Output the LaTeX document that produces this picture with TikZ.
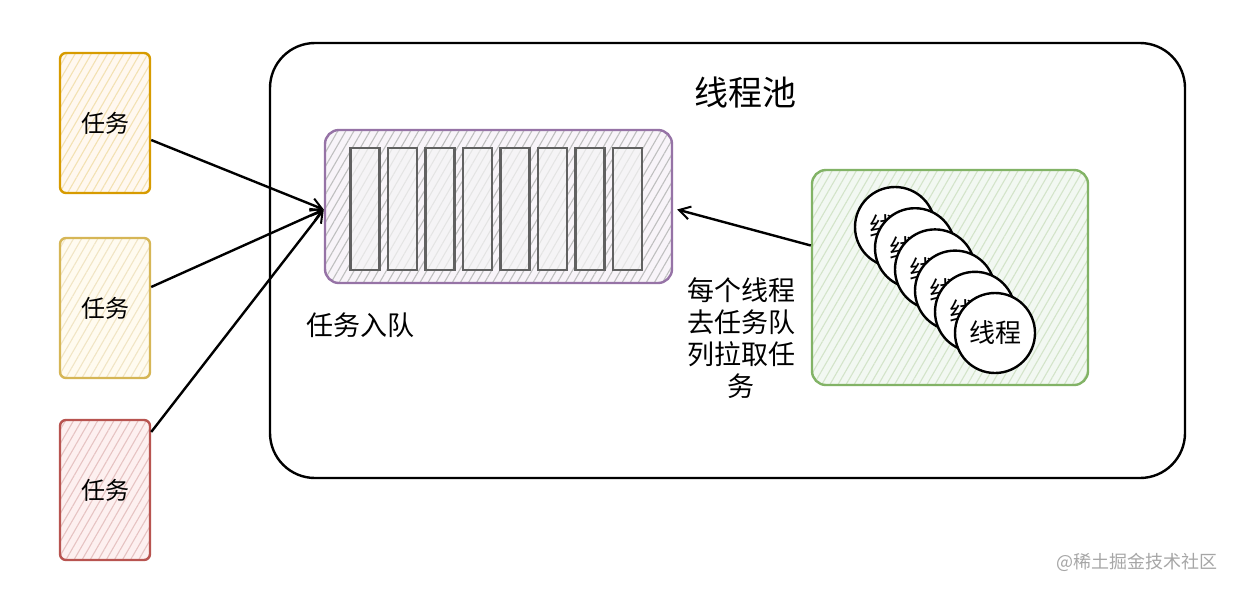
\documentclass[tikz,border=0pt]{standalone}
\usepackage{fontspec}
\setmainfont{Noto Sans CJK SC}
\usetikzlibrary{arrows.meta,patterns.meta}

\definecolor{orangeline}{HTML}{D79B00}
\definecolor{orangefill}{HTML}{FFE6CC}
\definecolor{yellowline}{HTML}{D6B656}
\definecolor{yellowfill}{HTML}{FFF2CC}
\definecolor{redline}{HTML}{B85450}
\definecolor{redfill}{HTML}{F8CECC}
\definecolor{purpleline}{HTML}{9673A6}
\definecolor{purplefill}{HTML}{E1D5E7}
\definecolor{greenline}{HTML}{82B366}
\definecolor{greenfill}{HTML}{D5E8D4}

\tikzset{
	hatchfill/.style 2 args = {preaction = {fill = #1}, preaction = {pattern = {Lines[angle = 60, distance = 7pt, line width = 1.1pt]}, pattern color = #2}},
	taskbox/.style = {rectangle, rounded corners = 6pt, line width = 2.4pt, minimum width = 90pt, minimum height = 140pt, font = \fontsize{24}{28}\selectfont},
	slotbox/.style = {rectangle, draw = black!62, line width = 2.4pt, minimum width = 29pt, minimum height = 122pt, inner sep = 0pt},
	threadnode/.style = {circle, draw = black, line width = 2.4pt, fill = white, minimum size = 80pt, inner sep = 0pt, font = \fontsize{26}{30}\selectfont},
	pushline/.style = {line width = 2.4pt, -{Straight Barb[length = 11pt, width = 13pt, line width = 2pt]}}
}

\begin{document}
\begin{tikzpicture}[x = 1pt, y = -1pt]
	
		\useasboundingbox (0, 0) rectangle (1236, 590);
		
		\node[rectangle, draw, line width = 2.4pt, rounded corners = 45pt, minimum width = 915pt, minimum height = 435pt] (pool) at (727.5, 260.5) {};
		\node[font = \fontsize{34}{38}\selectfont] (pooltitle) at (745, 93) {线程池};
		
		\node[taskbox, draw = orangeline, hatchfill = {orangefill!30}{orangeline!30}] (task1) at (105, 123) {任务};
		\node[taskbox, draw = yellowline, hatchfill = {yellowfill!30}{yellowline!35}] (task2) at (105, 308) {任务};
		\node[taskbox, draw = redline, hatchfill = {redfill!30}{redline!35}] (task3) at (105, 490) {任务};
		
		\node[rectangle, draw = purpleline, line width = 2.4pt, rounded corners = 14pt, minimum width = 347pt, minimum height = 153pt, hatchfill = {purplefill!25}{black!25}] (queue) at (498.5, 206.5) {};
		\foreach \i in {1, ..., 8}
			\node[slotbox, fill = black!4, fill opacity = 0.7] (slot\i) at ({365 + 37.5 * (\i - 1)}, 209) {};
		\node[font = \fontsize{27}{31}\selectfont] (enqueue) at (360, 325) {任务入队};
		
		\node[rectangle, draw = greenline, line width = 2.4pt, rounded corners = 14pt, minimum width = 276pt, minimum height = 215pt, hatchfill = {greenfill!30}{greenline!35}] (workers) at (950, 277.5) {};
		\foreach \i in {1, ..., 6}
			\node[threadnode] (thread\i) at ({895 + 20 * (\i - 1)}, {227 + 21.2 * (\i - 1)}) {线程};
		
		\node[align = center, font = \fontsize{27}{32}\selectfont] (pull) at (741, 338) {每个线程\\去任务队\\列拉取任\\务};
		
		\draw[pushline] ([yshift = -17pt] task1.east) -- ([yshift = -3pt] queue.west);
		\draw[pushline] ([yshift = 21pt] task2.east) -- ([yshift = -3pt] queue.west);
		\draw[pushline] ([yshift = 58pt] task3.east) -- ([yshift = -3pt] queue.west);
		\draw[pushline] ([yshift = 32pt] workers.west) -- ([xshift = 4pt, yshift = -3pt] queue.east);
		
		\node[text = black!35, font = \fontsize{18}{22}\selectfont] (mark) at (1137, 562) {@稀土掘金技术社区};
		
	\end{tikzpicture}
\end{document}
